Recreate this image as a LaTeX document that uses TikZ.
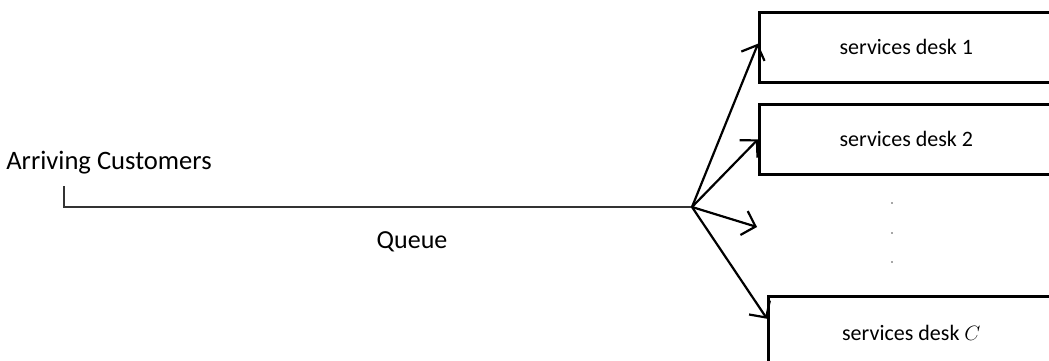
\documentclass[tikz,border=0pt]{standalone}
\usepackage{fontspec}
\setmainfont{Carlito}
\usetikzlibrary{arrows.meta,calc}
\begin{document}
\begin{tikzpicture}[x=1pt,y=-1pt,
  desk/.style={draw,line width=2.6pt,anchor=north west,minimum height=70pt,inner sep=0pt,font=\fontsize{22}{26}\selectfont},
  conn/.style={line width=2.2pt,-{Straight Barb[length=12pt,width=25pt,line width=2.2pt]}},
  lbl/.style={inner sep=0pt},
  dotn/.style={circle,fill=black!70,inner sep=0pt,minimum size=1.8pt}]
\useasboundingbox (0,0) rectangle (1049,360);
\clip (0,0) rectangle (1049,360);
\node[desk,minimum width=294pt] (d1) at (758,11) {services desk 1};
\node[desk,minimum width=294pt] (d2) at (758,103) {services desk 2};
\node[desk,minimum width=286pt,minimum height=74pt] (dc) at (767,295) {services desk $C$};
\node[lbl,font=\fontsize{26.6}{30}\selectfont] (arr) at (109,163) {Arriving Customers};
\node[lbl,font=\fontsize{26}{30}\selectfont] (q) at (412,242) {Queue};
\coordinate (start) at (64,207);
\coordinate (tick) at (64,186);
\coordinate (hub) at (692,207);
\coordinate (free) at (757,227);
\node[dotn] (p1) at (892,203) {};
\node[dotn] (p2) at (892,233) {};
\node[dotn] (p3) at (892,262) {};
\draw[line width=1.3pt,black!80] (tick) -- (start) -- (hub);
\draw[conn] (hub) -- ($(d1.north west)!0.45!(d1.south west)$);
\draw[conn] (hub) -- (d2.west);
\draw[conn] (hub) -- (free);
\draw[conn] (hub) -- ($(dc.north west)!0.31!(dc.south west)$);
\end{tikzpicture}
\end{document}
